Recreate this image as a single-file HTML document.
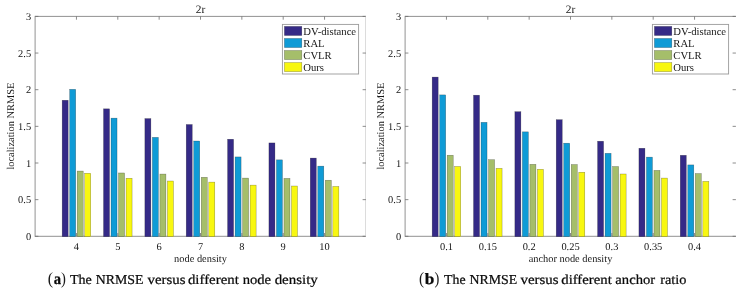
<!DOCTYPE html>
<html><head><meta charset="utf-8">
<style>
html,body{margin:0;padding:0;background:#fff;}
body{width:743px;height:292px;overflow:hidden;position:relative;}
svg{position:absolute;left:0;top:0;will-change:transform;}
svg text{font-family:"Liberation Serif",serif;fill:#161616;text-rendering:geometricPrecision;}
svg text.cap{fill:#0a0a0a;stroke:#0a0a0a;stroke-width:0.22px;}
svg text.capp{fill:#1a1a1a;}
</style></head><body>
<svg width="743" height="292" viewBox="0 0 743 292">
<rect x="0" y="0" width="743" height="292" fill="#fff"/>
<line x1="35.10" y1="16.40" x2="365.90" y2="16.40" stroke="#929292" stroke-width="1"/>
<line x1="35.10" y1="236.30" x2="365.90" y2="236.30" stroke="#929292" stroke-width="1"/>
<line x1="35.10" y1="15.90" x2="35.10" y2="236.80" stroke="#929292" stroke-width="1"/>
<line x1="365.50" y1="15.90" x2="365.50" y2="236.80" stroke="#dcdcdc" stroke-width="1"/>
<rect x="62.17" y="100.26" width="6.01" height="136.39" fill="#352a87" stroke="rgba(0,0,0,0.42)" stroke-width="0.5"/>
<rect x="69.68" y="89.33" width="6.01" height="147.32" fill="#0f9bd6" stroke="rgba(0,0,0,0.42)" stroke-width="0.5"/>
<rect x="77.20" y="171.06" width="6.01" height="65.59" fill="#a5be6a" stroke="rgba(0,0,0,0.42)" stroke-width="0.5"/>
<rect x="84.72" y="173.26" width="6.01" height="63.39" fill="#f8f710" stroke="rgba(0,0,0,0.42)" stroke-width="0.5"/>
<rect x="103.52" y="108.83" width="6.01" height="127.82" fill="#352a87" stroke="rgba(0,0,0,0.42)" stroke-width="0.5"/>
<rect x="111.03" y="118.14" width="6.01" height="118.51" fill="#0f9bd6" stroke="rgba(0,0,0,0.42)" stroke-width="0.5"/>
<rect x="118.55" y="172.97" width="6.01" height="63.68" fill="#a5be6a" stroke="rgba(0,0,0,0.42)" stroke-width="0.5"/>
<rect x="126.07" y="178.25" width="6.01" height="58.40" fill="#f8f710" stroke="rgba(0,0,0,0.42)" stroke-width="0.5"/>
<rect x="144.87" y="118.58" width="6.01" height="118.07" fill="#352a87" stroke="rgba(0,0,0,0.42)" stroke-width="0.5"/>
<rect x="152.38" y="137.35" width="6.01" height="99.30" fill="#0f9bd6" stroke="rgba(0,0,0,0.42)" stroke-width="0.5"/>
<rect x="159.90" y="174.07" width="6.01" height="62.58" fill="#a5be6a" stroke="rgba(0,0,0,0.42)" stroke-width="0.5"/>
<rect x="167.42" y="181.03" width="6.01" height="55.62" fill="#f8f710" stroke="rgba(0,0,0,0.42)" stroke-width="0.5"/>
<rect x="186.22" y="124.52" width="6.01" height="112.13" fill="#352a87" stroke="rgba(0,0,0,0.42)" stroke-width="0.5"/>
<rect x="193.73" y="141.01" width="6.01" height="95.64" fill="#0f9bd6" stroke="rgba(0,0,0,0.42)" stroke-width="0.5"/>
<rect x="201.25" y="177.29" width="6.01" height="59.36" fill="#a5be6a" stroke="rgba(0,0,0,0.42)" stroke-width="0.5"/>
<rect x="208.77" y="182.13" width="6.01" height="54.52" fill="#f8f710" stroke="rgba(0,0,0,0.42)" stroke-width="0.5"/>
<rect x="227.57" y="139.25" width="6.01" height="97.40" fill="#352a87" stroke="rgba(0,0,0,0.42)" stroke-width="0.5"/>
<rect x="235.08" y="156.92" width="6.01" height="79.73" fill="#0f9bd6" stroke="rgba(0,0,0,0.42)" stroke-width="0.5"/>
<rect x="242.60" y="178.10" width="6.01" height="58.55" fill="#a5be6a" stroke="rgba(0,0,0,0.42)" stroke-width="0.5"/>
<rect x="250.12" y="185.14" width="6.01" height="51.51" fill="#f8f710" stroke="rgba(0,0,0,0.42)" stroke-width="0.5"/>
<rect x="268.92" y="142.92" width="6.01" height="93.73" fill="#352a87" stroke="rgba(0,0,0,0.42)" stroke-width="0.5"/>
<rect x="276.43" y="159.85" width="6.01" height="76.80" fill="#0f9bd6" stroke="rgba(0,0,0,0.42)" stroke-width="0.5"/>
<rect x="283.95" y="178.39" width="6.01" height="58.26" fill="#a5be6a" stroke="rgba(0,0,0,0.42)" stroke-width="0.5"/>
<rect x="291.47" y="186.02" width="6.01" height="50.63" fill="#f8f710" stroke="rgba(0,0,0,0.42)" stroke-width="0.5"/>
<rect x="310.27" y="158.09" width="6.01" height="78.56" fill="#352a87" stroke="rgba(0,0,0,0.42)" stroke-width="0.5"/>
<rect x="317.78" y="166.15" width="6.01" height="70.50" fill="#0f9bd6" stroke="rgba(0,0,0,0.42)" stroke-width="0.5"/>
<rect x="325.30" y="180.23" width="6.01" height="56.42" fill="#a5be6a" stroke="rgba(0,0,0,0.42)" stroke-width="0.5"/>
<rect x="332.82" y="186.46" width="6.01" height="50.19" fill="#f8f710" stroke="rgba(0,0,0,0.42)" stroke-width="0.5"/>
<line x1="76.45" y1="236.30" x2="76.45" y2="233.00" stroke="#6e6e6e" stroke-width="0.8"/>
<line x1="76.45" y1="16.40" x2="76.45" y2="19.70" stroke="#6e6e6e" stroke-width="0.8"/>
<line x1="117.80" y1="236.30" x2="117.80" y2="233.00" stroke="#6e6e6e" stroke-width="0.8"/>
<line x1="117.80" y1="16.40" x2="117.80" y2="19.70" stroke="#6e6e6e" stroke-width="0.8"/>
<line x1="159.15" y1="236.30" x2="159.15" y2="233.00" stroke="#6e6e6e" stroke-width="0.8"/>
<line x1="159.15" y1="16.40" x2="159.15" y2="19.70" stroke="#6e6e6e" stroke-width="0.8"/>
<line x1="200.50" y1="236.30" x2="200.50" y2="233.00" stroke="#6e6e6e" stroke-width="0.8"/>
<line x1="200.50" y1="16.40" x2="200.50" y2="19.70" stroke="#6e6e6e" stroke-width="0.8"/>
<line x1="241.85" y1="236.30" x2="241.85" y2="233.00" stroke="#6e6e6e" stroke-width="0.8"/>
<line x1="241.85" y1="16.40" x2="241.85" y2="19.70" stroke="#6e6e6e" stroke-width="0.8"/>
<line x1="283.20" y1="236.30" x2="283.20" y2="233.00" stroke="#6e6e6e" stroke-width="0.8"/>
<line x1="283.20" y1="16.40" x2="283.20" y2="19.70" stroke="#6e6e6e" stroke-width="0.8"/>
<line x1="324.55" y1="236.30" x2="324.55" y2="233.00" stroke="#6e6e6e" stroke-width="0.8"/>
<line x1="324.55" y1="16.40" x2="324.55" y2="19.70" stroke="#6e6e6e" stroke-width="0.8"/>
<line x1="35.10" y1="236.30" x2="38.40" y2="236.30" stroke="#6e6e6e" stroke-width="0.8"/>
<line x1="365.90" y1="236.30" x2="362.60" y2="236.30" stroke="#6e6e6e" stroke-width="0.8"/>
<line x1="35.10" y1="199.65" x2="38.40" y2="199.65" stroke="#6e6e6e" stroke-width="0.8"/>
<line x1="365.90" y1="199.65" x2="362.60" y2="199.65" stroke="#6e6e6e" stroke-width="0.8"/>
<line x1="35.10" y1="163.00" x2="38.40" y2="163.00" stroke="#6e6e6e" stroke-width="0.8"/>
<line x1="365.90" y1="163.00" x2="362.60" y2="163.00" stroke="#6e6e6e" stroke-width="0.8"/>
<line x1="35.10" y1="126.35" x2="38.40" y2="126.35" stroke="#6e6e6e" stroke-width="0.8"/>
<line x1="365.90" y1="126.35" x2="362.60" y2="126.35" stroke="#6e6e6e" stroke-width="0.8"/>
<line x1="35.10" y1="89.70" x2="38.40" y2="89.70" stroke="#6e6e6e" stroke-width="0.8"/>
<line x1="365.90" y1="89.70" x2="362.60" y2="89.70" stroke="#6e6e6e" stroke-width="0.8"/>
<line x1="35.10" y1="53.05" x2="38.40" y2="53.05" stroke="#6e6e6e" stroke-width="0.8"/>
<line x1="365.90" y1="53.05" x2="362.60" y2="53.05" stroke="#6e6e6e" stroke-width="0.8"/>
<line x1="35.10" y1="16.40" x2="38.40" y2="16.40" stroke="#6e6e6e" stroke-width="0.8"/>
<line x1="365.90" y1="16.40" x2="362.60" y2="16.40" stroke="#6e6e6e" stroke-width="0.8"/>
<text x="31.10" y="239.90" text-anchor="end" font-size="10.4">0</text>
<text x="31.10" y="203.25" text-anchor="end" font-size="10.4">0.5</text>
<text x="31.10" y="166.60" text-anchor="end" font-size="10.4">1</text>
<text x="31.10" y="129.95" text-anchor="end" font-size="10.4">1.5</text>
<text x="31.10" y="93.30" text-anchor="end" font-size="10.4">2</text>
<text x="31.10" y="56.65" text-anchor="end" font-size="10.4">2.5</text>
<text x="31.10" y="20.00" text-anchor="end" font-size="10.4">3</text>
<text x="76.45" y="249.70" text-anchor="middle" font-size="10.4">4</text>
<text x="117.80" y="249.70" text-anchor="middle" font-size="10.4">5</text>
<text x="159.15" y="249.70" text-anchor="middle" font-size="10.4">6</text>
<text x="200.50" y="249.70" text-anchor="middle" font-size="10.4">7</text>
<text x="241.85" y="249.70" text-anchor="middle" font-size="10.4">8</text>
<text x="283.20" y="249.70" text-anchor="middle" font-size="10.4">9</text>
<text x="324.55" y="249.70" text-anchor="middle" font-size="10.4">10</text>
<text x="200.50" y="261.9" text-anchor="middle" font-size="10.4">node density</text>
<text x="0" y="0" transform="translate(13.90,126.15) rotate(-90)" text-anchor="middle" font-size="10.4">localization NRMSE</text>
<text x="200.50" y="13.1" text-anchor="middle" font-size="11.4">2r</text>
<rect x="282.40" y="24.40" width="76.20" height="49.60" fill="#fff" stroke="#9a9a9a" stroke-width="0.9"/>
<rect x="284.40" y="26.40" width="17.4" height="9.1" fill="#352a87" stroke="rgba(0,0,0,0.42)" stroke-width="0.5"/>
<text x="303.30" y="34.70" font-size="10.65">DV-distance</text>
<rect x="284.40" y="38.45" width="17.4" height="9.1" fill="#0f9bd6" stroke="rgba(0,0,0,0.42)" stroke-width="0.5"/>
<text x="303.30" y="46.75" font-size="10.65">RAL</text>
<rect x="284.40" y="50.50" width="17.4" height="9.1" fill="#a5be6a" stroke="rgba(0,0,0,0.42)" stroke-width="0.5"/>
<text x="303.30" y="58.80" font-size="10.65">CVLR</text>
<rect x="284.40" y="62.55" width="17.4" height="9.1" fill="#f8f710" stroke="rgba(0,0,0,0.42)" stroke-width="0.5"/>
<text x="303.30" y="70.85" font-size="10.65">Ours</text>
<line x1="405.10" y1="16.40" x2="735.90" y2="16.40" stroke="#929292" stroke-width="1"/>
<line x1="405.10" y1="236.30" x2="735.90" y2="236.30" stroke="#929292" stroke-width="1"/>
<line x1="405.10" y1="15.90" x2="405.10" y2="236.80" stroke="#929292" stroke-width="1"/>
<rect x="432.17" y="77.09" width="6.01" height="159.56" fill="#352a87" stroke="rgba(0,0,0,0.42)" stroke-width="0.5"/>
<rect x="439.68" y="94.90" width="6.01" height="141.75" fill="#0f9bd6" stroke="rgba(0,0,0,0.42)" stroke-width="0.5"/>
<rect x="447.20" y="155.23" width="6.01" height="81.42" fill="#a5be6a" stroke="rgba(0,0,0,0.42)" stroke-width="0.5"/>
<rect x="454.72" y="166.45" width="6.01" height="70.20" fill="#f8f710" stroke="rgba(0,0,0,0.42)" stroke-width="0.5"/>
<rect x="473.52" y="95.20" width="6.01" height="141.45" fill="#352a87" stroke="rgba(0,0,0,0.42)" stroke-width="0.5"/>
<rect x="481.03" y="122.32" width="6.01" height="114.33" fill="#0f9bd6" stroke="rgba(0,0,0,0.42)" stroke-width="0.5"/>
<rect x="488.55" y="159.70" width="6.01" height="76.95" fill="#a5be6a" stroke="rgba(0,0,0,0.42)" stroke-width="0.5"/>
<rect x="496.07" y="168.35" width="6.01" height="68.30" fill="#f8f710" stroke="rgba(0,0,0,0.42)" stroke-width="0.5"/>
<rect x="514.87" y="111.69" width="6.01" height="124.96" fill="#352a87" stroke="rgba(0,0,0,0.42)" stroke-width="0.5"/>
<rect x="522.38" y="131.85" width="6.01" height="104.80" fill="#0f9bd6" stroke="rgba(0,0,0,0.42)" stroke-width="0.5"/>
<rect x="529.90" y="164.32" width="6.01" height="72.33" fill="#a5be6a" stroke="rgba(0,0,0,0.42)" stroke-width="0.5"/>
<rect x="537.42" y="169.30" width="6.01" height="67.35" fill="#f8f710" stroke="rgba(0,0,0,0.42)" stroke-width="0.5"/>
<rect x="556.22" y="119.68" width="6.01" height="116.97" fill="#352a87" stroke="rgba(0,0,0,0.42)" stroke-width="0.5"/>
<rect x="563.73" y="143.21" width="6.01" height="93.44" fill="#0f9bd6" stroke="rgba(0,0,0,0.42)" stroke-width="0.5"/>
<rect x="571.25" y="164.54" width="6.01" height="72.11" fill="#a5be6a" stroke="rgba(0,0,0,0.42)" stroke-width="0.5"/>
<rect x="578.77" y="172.24" width="6.01" height="64.41" fill="#f8f710" stroke="rgba(0,0,0,0.42)" stroke-width="0.5"/>
<rect x="597.57" y="141.23" width="6.01" height="95.42" fill="#352a87" stroke="rgba(0,0,0,0.42)" stroke-width="0.5"/>
<rect x="605.08" y="153.32" width="6.01" height="83.33" fill="#0f9bd6" stroke="rgba(0,0,0,0.42)" stroke-width="0.5"/>
<rect x="612.60" y="166.52" width="6.01" height="70.13" fill="#a5be6a" stroke="rgba(0,0,0,0.42)" stroke-width="0.5"/>
<rect x="620.12" y="174.00" width="6.01" height="62.66" fill="#f8f710" stroke="rgba(0,0,0,0.42)" stroke-width="0.5"/>
<rect x="638.92" y="148.27" width="6.01" height="88.38" fill="#352a87" stroke="rgba(0,0,0,0.42)" stroke-width="0.5"/>
<rect x="646.43" y="157.14" width="6.01" height="79.51" fill="#0f9bd6" stroke="rgba(0,0,0,0.42)" stroke-width="0.5"/>
<rect x="653.95" y="170.40" width="6.01" height="66.25" fill="#a5be6a" stroke="rgba(0,0,0,0.42)" stroke-width="0.5"/>
<rect x="661.47" y="178.10" width="6.01" height="58.55" fill="#f8f710" stroke="rgba(0,0,0,0.42)" stroke-width="0.5"/>
<rect x="680.27" y="155.30" width="6.01" height="81.35" fill="#352a87" stroke="rgba(0,0,0,0.42)" stroke-width="0.5"/>
<rect x="687.78" y="164.91" width="6.01" height="71.74" fill="#0f9bd6" stroke="rgba(0,0,0,0.42)" stroke-width="0.5"/>
<rect x="695.30" y="173.56" width="6.01" height="63.09" fill="#a5be6a" stroke="rgba(0,0,0,0.42)" stroke-width="0.5"/>
<rect x="702.82" y="181.40" width="6.01" height="55.25" fill="#f8f710" stroke="rgba(0,0,0,0.42)" stroke-width="0.5"/>
<line x1="446.45" y1="236.30" x2="446.45" y2="233.00" stroke="#6e6e6e" stroke-width="0.8"/>
<line x1="446.45" y1="16.40" x2="446.45" y2="19.70" stroke="#6e6e6e" stroke-width="0.8"/>
<line x1="487.80" y1="236.30" x2="487.80" y2="233.00" stroke="#6e6e6e" stroke-width="0.8"/>
<line x1="487.80" y1="16.40" x2="487.80" y2="19.70" stroke="#6e6e6e" stroke-width="0.8"/>
<line x1="529.15" y1="236.30" x2="529.15" y2="233.00" stroke="#6e6e6e" stroke-width="0.8"/>
<line x1="529.15" y1="16.40" x2="529.15" y2="19.70" stroke="#6e6e6e" stroke-width="0.8"/>
<line x1="570.50" y1="236.30" x2="570.50" y2="233.00" stroke="#6e6e6e" stroke-width="0.8"/>
<line x1="570.50" y1="16.40" x2="570.50" y2="19.70" stroke="#6e6e6e" stroke-width="0.8"/>
<line x1="611.85" y1="236.30" x2="611.85" y2="233.00" stroke="#6e6e6e" stroke-width="0.8"/>
<line x1="611.85" y1="16.40" x2="611.85" y2="19.70" stroke="#6e6e6e" stroke-width="0.8"/>
<line x1="653.20" y1="236.30" x2="653.20" y2="233.00" stroke="#6e6e6e" stroke-width="0.8"/>
<line x1="653.20" y1="16.40" x2="653.20" y2="19.70" stroke="#6e6e6e" stroke-width="0.8"/>
<line x1="694.55" y1="236.30" x2="694.55" y2="233.00" stroke="#6e6e6e" stroke-width="0.8"/>
<line x1="694.55" y1="16.40" x2="694.55" y2="19.70" stroke="#6e6e6e" stroke-width="0.8"/>
<line x1="405.10" y1="236.30" x2="408.40" y2="236.30" stroke="#6e6e6e" stroke-width="0.8"/>
<line x1="735.90" y1="236.30" x2="732.60" y2="236.30" stroke="#6e6e6e" stroke-width="0.8"/>
<line x1="405.10" y1="199.65" x2="408.40" y2="199.65" stroke="#6e6e6e" stroke-width="0.8"/>
<line x1="735.90" y1="199.65" x2="732.60" y2="199.65" stroke="#6e6e6e" stroke-width="0.8"/>
<line x1="405.10" y1="163.00" x2="408.40" y2="163.00" stroke="#6e6e6e" stroke-width="0.8"/>
<line x1="735.90" y1="163.00" x2="732.60" y2="163.00" stroke="#6e6e6e" stroke-width="0.8"/>
<line x1="405.10" y1="126.35" x2="408.40" y2="126.35" stroke="#6e6e6e" stroke-width="0.8"/>
<line x1="735.90" y1="126.35" x2="732.60" y2="126.35" stroke="#6e6e6e" stroke-width="0.8"/>
<line x1="405.10" y1="89.70" x2="408.40" y2="89.70" stroke="#6e6e6e" stroke-width="0.8"/>
<line x1="735.90" y1="89.70" x2="732.60" y2="89.70" stroke="#6e6e6e" stroke-width="0.8"/>
<line x1="405.10" y1="53.05" x2="408.40" y2="53.05" stroke="#6e6e6e" stroke-width="0.8"/>
<line x1="735.90" y1="53.05" x2="732.60" y2="53.05" stroke="#6e6e6e" stroke-width="0.8"/>
<line x1="405.10" y1="16.40" x2="408.40" y2="16.40" stroke="#6e6e6e" stroke-width="0.8"/>
<line x1="735.90" y1="16.40" x2="732.60" y2="16.40" stroke="#6e6e6e" stroke-width="0.8"/>
<text x="401.10" y="239.90" text-anchor="end" font-size="10.4">0</text>
<text x="401.10" y="203.25" text-anchor="end" font-size="10.4">0.5</text>
<text x="401.10" y="166.60" text-anchor="end" font-size="10.4">1</text>
<text x="401.10" y="129.95" text-anchor="end" font-size="10.4">1.5</text>
<text x="401.10" y="93.30" text-anchor="end" font-size="10.4">2</text>
<text x="401.10" y="56.65" text-anchor="end" font-size="10.4">2.5</text>
<text x="401.10" y="20.00" text-anchor="end" font-size="10.4">3</text>
<text x="446.45" y="249.70" text-anchor="middle" font-size="10.4">0.1</text>
<text x="487.80" y="249.70" text-anchor="middle" font-size="10.4">0.15</text>
<text x="529.15" y="249.70" text-anchor="middle" font-size="10.4">0.2</text>
<text x="570.50" y="249.70" text-anchor="middle" font-size="10.4">0.25</text>
<text x="611.85" y="249.70" text-anchor="middle" font-size="10.4">0.3</text>
<text x="653.20" y="249.70" text-anchor="middle" font-size="10.4">0.35</text>
<text x="694.55" y="249.70" text-anchor="middle" font-size="10.4">0.4</text>
<text x="570.50" y="261.9" text-anchor="middle" font-size="10.4">anchor node density</text>
<text x="0" y="0" transform="translate(383.90,126.15) rotate(-90)" text-anchor="middle" font-size="10.4">localization NRMSE</text>
<text x="570.50" y="13.1" text-anchor="middle" font-size="11.4">2r</text>
<rect x="652.40" y="24.40" width="76.20" height="49.60" fill="#fff" stroke="#9a9a9a" stroke-width="0.9"/>
<rect x="654.40" y="26.40" width="17.4" height="9.1" fill="#352a87" stroke="rgba(0,0,0,0.42)" stroke-width="0.5"/>
<text x="673.30" y="34.70" font-size="10.65">DV-distance</text>
<rect x="654.40" y="38.45" width="17.4" height="9.1" fill="#0f9bd6" stroke="rgba(0,0,0,0.42)" stroke-width="0.5"/>
<text x="673.30" y="46.75" font-size="10.65">RAL</text>
<rect x="654.40" y="50.50" width="17.4" height="9.1" fill="#a5be6a" stroke="rgba(0,0,0,0.42)" stroke-width="0.5"/>
<text x="673.30" y="58.80" font-size="10.65">CVLR</text>
<rect x="654.40" y="62.55" width="17.4" height="9.1" fill="#f8f710" stroke="rgba(0,0,0,0.42)" stroke-width="0.5"/>
<text x="673.30" y="70.85" font-size="10.65">Ours</text>
<text x="0" y="0" transform="translate(47.87,283.89) scale(1.1714,1.2571)" font-size="13.6" font-weight="normal" class="capp">(</text>
<text x="0" y="0" transform="translate(53.70,283.95) scale(1.0720,1.1846)" font-size="13.6" font-weight="bold" class="cap">a</text>
<text x="0" y="0" transform="translate(61.10,283.89) scale(1.0759,1.2571)" font-size="13.6" font-weight="normal" class="capp">)</text>
<text x="0" y="0" transform="translate(69.94,284.00) scale(1.0356,1.0000)" font-size="13.6" font-weight="normal" class="cap">The</text>
<text x="0" y="0" transform="translate(95.82,284.00) scale(1.0164,1.0000)" font-size="13.6" font-weight="normal" class="cap">NRMSE</text>
<text x="0" y="0" transform="translate(147.60,284.00) scale(1.0920,1.0000)" font-size="13.6" font-weight="normal" class="cap">versus</text>
<text x="0" y="0" transform="translate(187.95,284.00) scale(1.0913,1.0000)" font-size="13.6" font-weight="normal" class="cap">different</text>
<text x="0" y="0" transform="translate(242.63,284.00) scale(1.0757,1.0000)" font-size="13.6" font-weight="normal" class="cap">node</text>
<text x="0" y="0" transform="translate(274.65,284.00) scale(1.0994,1.0000)" font-size="13.6" font-weight="normal" class="cap">density</text>
<text x="0" y="0" transform="translate(419.00,283.86) scale(1.1143,1.2653)" font-size="13.6" font-weight="normal" class="capp">(</text>
<text x="0" y="0" transform="translate(424.74,283.95) scale(1.2655,1.1636)" font-size="13.6" font-weight="bold" class="cap">b</text>
<text x="0" y="0" transform="translate(434.40,283.86) scale(1.0759,1.2653)" font-size="13.6" font-weight="normal" class="capp">)</text>
<text x="0" y="0" transform="translate(444.05,284.00) scale(1.0160,1.0000)" font-size="13.6" font-weight="normal" class="cap">The</text>
<text x="0" y="0" transform="translate(469.42,284.00) scale(1.0186,1.0000)" font-size="13.6" font-weight="normal" class="cap">NRMSE</text>
<text x="0" y="0" transform="translate(520.50,284.00) scale(1.0949,1.0000)" font-size="13.6" font-weight="normal" class="cap">versus</text>
<text x="0" y="0" transform="translate(561.26,284.00) scale(1.0848,1.0000)" font-size="13.6" font-weight="normal" class="cap">different</text>
<text x="0" y="0" transform="translate(615.36,284.00) scale(1.0749,1.0000)" font-size="13.6" font-weight="normal" class="cap">anchor</text>
<text x="0" y="0" transform="translate(660.14,284.00) scale(1.0528,1.0000)" font-size="13.6" font-weight="normal" class="cap">ratio</text>
</svg>
</body></html>
